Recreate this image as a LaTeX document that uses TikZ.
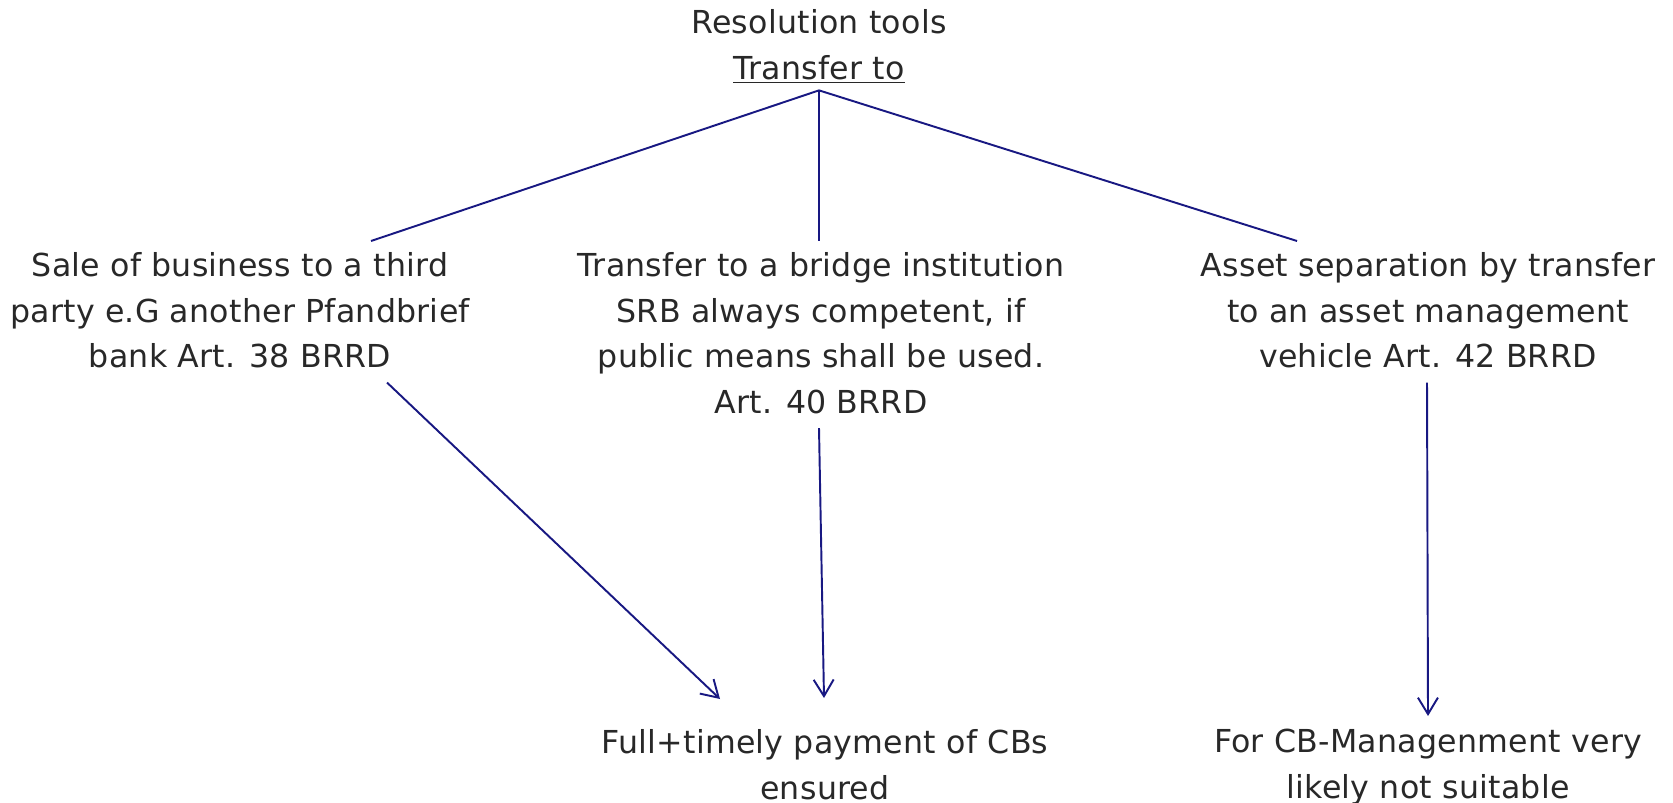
\documentclass[tikz,border=0pt]{standalone}
\usepackage{fontspec}
\setmainfont{DejaVu Sans}[LetterSpace=0.8]
\usetikzlibrary{arrows.meta,calc}
\definecolor{linkblue}{RGB}{24,24,130}
\definecolor{textgray}{RGB}{40,40,40}
\begin{document}
\begin{tikzpicture}[x=0.02cm, y=-0.02cm, font=\fontsize{18}{26}\selectfont,
    >={Straight Barb[length=0.33cm,width=0.4cm]},
    every node/.style={text=textgray, align=center, inner sep=0pt},
    link/.style={draw=linkblue, line width=1.1pt}]
  \useasboundingbox (0,0) rectangle (1673,803);
  % top label and branching point
  \node[anchor=north] (tools) at (819,9) {Resolution tools\\\underline{Transfer to}};
  \coordinate (apex) at ($(tools.south)+(0,7)$);
  % the three tools
  \node[anchor=north] (sale) at (240,252) {Sale of business to a third\\party e.G another Pfandbrief\\bank Art. 38 BRRD};
  \node[anchor=north] (bridge) at (821,252) {Transfer to a bridge institution\\SRB always competent, if\\public means shall be used.\\Art. 40 BRRD};
  \node[anchor=north] (asset) at (1428,252) {Asset separation by transfer\\to an asset management\\vehicle Art. 42 BRRD};
  % outcomes
  \node[anchor=north] (payment) at (825,729) {Full+timely payment of CBs\\ensured};
  \node[anchor=north] (unsuitable) at (1428,729) {For CB-Managenment very\\likely not suitable};
  \draw[link] ($(sale.north)+(131,-11)$) -- (apex) -- ($(asset.north)+(-131,-11)$);
  \draw[link] (apex) -- ($(bridge.north)+(-2,-11)$);
  \draw[link, ->] ($(sale.south)+(147,14)$) -- ($(payment.north)+(-105,-30)$);
  \draw[link, ->] ($(bridge.south)+(-2,14)$) -- ($(payment.north)+(-1,-31)$);
  \draw[link, ->] ($(asset.south)+(-1,14)$) -- ($(unsuitable.north)+(0,-13)$);
\end{tikzpicture}
\end{document}
